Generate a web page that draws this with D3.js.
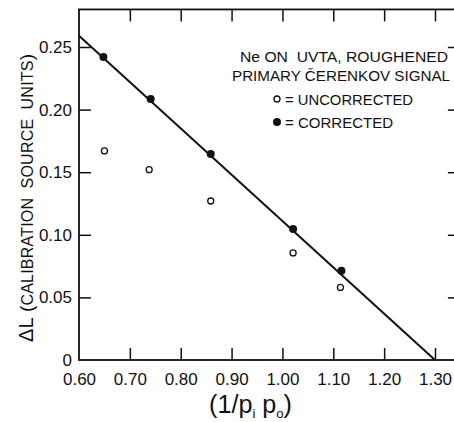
<!DOCTYPE html>
<html><head><meta charset="utf-8">
<script src="https://cdn.jsdelivr.net/npm/d3@7/dist/d3.min.js"></script>
<style>
body{margin:0;background:#fff;}
svg{display:block;}
text{font-family:"Liberation Sans",Arial,sans-serif;fill:#111;}
</style></head>
<body>
<svg id="chart" width="454" height="422"></svg>
<script>
// ---- data ----
const corrX = [0.648, 0.741, 0.859, 1.021, 1.116];
const corrY = [0.242, 0.2085, 0.1645, 0.1046, 0.0713];
const uncX = [0.650, 0.738, 0.859, 1.021, 1.114];
const uncY = [0.167, 0.152, 0.127, 0.0855, 0.058];
const fitX = [0.60, 1.30];
const fitY = [0.259, 0.0];
const xTicks = [0.60, 0.70, 0.80, 0.90, 1.00, 1.10, 1.20, 1.30];
const xTickLabels = ["0.60", "0.70", "0.80", "0.90", "1.00", "1.10", "1.20", "1.30"];
const yTicks = [0, 0.05, 0.10, 0.15, 0.20, 0.25];
const yTickLabels = ["0", "0.05", "0.10", "0.15", "0.20", "0.25"];
const legendLines = ["Ne ON  UVTA, ROUGHENED", "PRIMARY ČERENKOV SIGNAL"];
const legendItems = ["= UNCORRECTED", "= CORRECTED"];
const yTitleParts = ["ΔL ", "(", "CALIBRATION  SOURCE  UNITS", ")"];
const xTitleParts = ["(1/p", "i", " p", "o", ")"];
const xMax = 1.345, yMax = 0.28;

// ---- scales ----
const svg = d3.select("#chart");
const x = d3.scaleLinear().domain([0.6, 1.3]).range([79, 435]);
const y = d3.scaleLinear().domain([0, 0.25]).range([360, 47]);

const ink = "#111";
// frame
svg.append("rect")
  .attr("x", x(0.6)).attr("y", y(yMax))
  .attr("width", x(xMax) - x(0.6)).attr("height", y(0) - y(yMax))
  .attr("fill", "none").attr("stroke", ink).attr("stroke-width", 1.8);

// axes
const gx = svg.append("g").attr("transform", `translate(0,${y(0)})`)
  .call(d3.axisBottom(x).tickValues(xTicks).tickSize(-12).tickPadding(12.5)
    .tickFormat((d, i) => xTickLabels[i]));
const gy = svg.append("g").attr("transform", `translate(${x(0.6)},0)`)
  .call(d3.axisLeft(y).tickValues(yTicks).tickSize(-12).tickPadding(7)
    .tickFormat((d, i) => yTickLabels[i]));
const gt = svg.append("g").attr("transform", `translate(0,${y(yMax)})`)
  .call(d3.axisTop(x).tickValues(xTicks.slice(1)).tickSize(-12).tickFormat(""));
const gr = svg.append("g").attr("transform", `translate(${x(xMax)},0)`)
  .call(d3.axisRight(y).tickValues(yTicks.slice(1)).tickSize(-10).tickFormat(""));
[gx, gy, gt, gr].forEach(g => {
  g.select(".domain").remove();
  g.selectAll(".tick line").attr("stroke", ink).attr("stroke-width", 1.5);
  g.selectAll(".tick text").attr("font-size", 17).attr("fill", ink)
    .style("font-family", '"Liberation Sans",Arial,sans-serif');
});
gx.selectAll(".tick").filter(d => d === 0.6).select("line").remove();
gy.selectAll(".tick").filter(d => d === 0).select("line").remove();

// fit line
const line = d3.line().x(d => x(d[0])).y(d => y(d[1]));
svg.append("path").datum(fitX.map((v, i) => [v, fitY[i]]))
  .attr("d", line).attr("fill", "none").attr("stroke", ink).attr("stroke-width", 2);

// points
svg.append("g").selectAll("circle").data(uncX.map((v, i) => [v, uncY[i]])).join("circle")
  .attr("cx", d => x(d[0])).attr("cy", d => y(d[1])).attr("r", 3)
  .attr("fill", "#fff").attr("stroke", ink).attr("stroke-width", 1.3);
svg.append("g").selectAll("circle").data(corrX.map((v, i) => [v, corrY[i]])).join("circle")
  .attr("cx", d => x(d[0])).attr("cy", d => y(d[1])).attr("r", 4)
  .attr("fill", ink);

// legend
function fitText(tx, ty, str, len, fs) {
  return svg.append("text").attr("x", tx).attr("y", ty).attr("font-size", fs)
    .attr("textLength", len).attr("lengthAdjust", "spacingAndGlyphs")
    .style("white-space", "pre").text(str);
}
fitText(240, 62, legendLines[0], 208, 15.5);
fitText(232, 81, legendLines[1], 218, 15.5);
svg.append("circle").attr("cx", 277).attr("cy", 99).attr("r", 3)
  .attr("fill", "#fff").attr("stroke", ink).attr("stroke-width", 1.3);
fitText(285, 105, legendItems[0], 128, 15.5);
svg.append("circle").attr("cx", 277).attr("cy", 122).attr("r", 4).attr("fill", ink);
fitText(285, 128, legendItems[1], 108, 15.5);

// y title
const yt = svg.append("text").attr("transform", "translate(33,342) rotate(-90)")
  .style("white-space", "pre").attr("textLength", 288).attr("lengthAdjust", "spacing");
const ySizes = [20, 19, 16, 19];
yTitleParts.forEach((s, i) => yt.append("tspan").attr("font-size", ySizes[i]).text(s));

// x title
const xt = svg.append("text").attr("x", 209).attr("y", 413)
  .attr("font-size", 25).attr("textLength", 83).attr("lengthAdjust", "spacingAndGlyphs")
  .style("white-space", "pre");
xTitleParts.forEach((s, i) => {
  const sub = i === 1 || i === 3;
  const t = xt.append("tspan").text(s);
  if (sub) t.attr("font-size", 13).attr("dy", 5);
  else if (i > 0) t.attr("dy", -5);
});
</script>
</body></html>
